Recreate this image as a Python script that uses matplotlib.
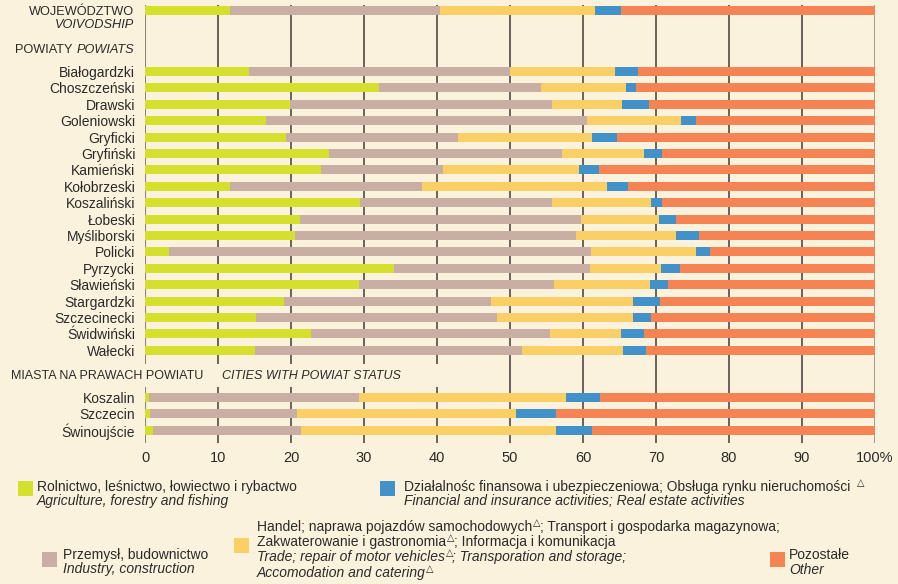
import numpy as np
import matplotlib
matplotlib.use("Agg")
import matplotlib.pyplot as plt
from matplotlib.patches import Rectangle
from matplotlib.transforms import IdentityTransform

plt.rcParams["font.family"] = ["Liberation Sans", "DejaVu Sans"]

# ---- data (percent shares) ----
voivodship = [11.6, 28.8, 21.2, 3.6, 34.8]

powiats = [
    "Białogardzki", "Choszczeński", "Drawski", "Goleniowski", "Gryficki",
    "Gryfiński", "Kamieński", "Kołobrzeski", "Koszaliński", "Łobeski",
    "Myśliborski", "Policki", "Pyrzycki", "Sławieński", "Stargardzki",
    "Szczecinecki", "Świdwiński", "Wałecki",
]
pow_agri = [14.2, 32.1, 19.9, 16.6, 19.3, 25.2, 24.1, 11.6, 29.5, 21.2,
            20.5, 3.3, 34.1, 29.3, 19.0, 15.2, 22.7, 15.1]
pow_industry = [35.8, 22.1, 35.9, 43.9, 23.6, 31.9, 16.7, 26.3, 26.3, 38.5,
                38.5, 57.8, 26.9, 26.7, 28.4, 33.0, 32.8, 36.5]
pow_trade = [14.4, 11.7, 9.5, 12.9, 18.3, 11.3, 18.7, 25.4, 13.5, 10.7,
             13.7, 14.4, 9.7, 13.2, 19.4, 18.6, 9.7, 13.9]
pow_finance = [3.1, 1.4, 3.7, 2.1, 3.5, 2.4, 2.7, 2.9, 1.5, 2.3,
               3.2, 1.9, 2.6, 2.4, 3.7, 2.5, 3.2, 3.1]
pow_other = [32.5, 32.7, 31.0, 24.5, 35.3, 29.2, 37.8, 33.8, 29.2, 27.3,
             24.1, 22.6, 26.7, 28.4, 29.5, 30.7, 31.6, 31.4]

cities = ["Koszalin", "Szczecin", "Świnoujście"]
city_agri = [0.5, 0.7, 1.1]
city_industry = [28.8, 20.1, 20.3]
city_trade = [28.4, 30.0, 34.9]
city_finance = [4.6, 5.5, 4.9]
city_other = [37.7, 43.7, 38.8]

colors = ["#d5df2e", "#c9aea4", "#f9cf66", "#4292c9", "#f58353"]
BG = "#faf2dc"
TXT = "#2b2a29"
W, H = 898, 584

# ---- layout ----
pos_voiv = np.array([0.0])
pos_pow = 3.72 + np.arange(len(powiats))
pos_city = 23.57 + 1.02 * np.arange(len(cities))

positions = np.concatenate([pos_voiv, pos_pow, pos_city])
segments = [
    [voivodship[0]] + pow_agri + city_agri,
    [voivodship[1]] + pow_industry + city_industry,
    [voivodship[2]] + pow_trade + city_trade,
    [voivodship[3]] + pow_finance + city_finance,
    [voivodship[4]] + pow_other + city_other,
]

fig = plt.figure(figsize=(W / 100, H / 100), dpi=100, facecolor=BG)
ax = fig.add_axes([145 / W, (H - 443) / H, 730 / W, 438 / H])
ax.set_facecolor(BG)

left = np.zeros(len(positions))
for vals, col in zip(segments, colors):
    vals = np.array(vals)
    ax.barh(positions, vals, left=left, height=0.55, color=col, zorder=3)
    left += vals

ax.set_xlim(0, 100)
ax.set_ylim(26.37, -0.335)

# grid lines
ax.vlines(np.arange(10, 100, 10), -1, 30, color="#403c38", lw=1.1, zorder=1)
ax.vlines([0], -1, 30, color="#8c857a", lw=1.5, zorder=1)
ax.vlines([100], -1, 30, color="#9a9386", lw=2.0, zorder=1)

# blank strip behind the "cities" header
ax.add_patch(Rectangle((-1, 21.55), 42, 1.41, facecolor=BG, edgecolor="none",
                       zorder=2, clip_on=False))

for s in ax.spines.values():
    s.set_visible(False)

ax.set_xticks(np.arange(0, 101, 10))
ax.set_xticklabels([str(v) for v in range(0, 100, 10)] + ["100%"])
ax.set_yticks(np.concatenate([pos_pow, pos_city]))
ax.set_yticklabels(powiats + cities)
ax.tick_params(axis="x", length=0, pad=6, labelsize=10.5, labelcolor=TXT)
ax.tick_params(axis="y", length=0, pad=7, labelsize=10, labelcolor=TXT)

renderer = fig.canvas.get_renderer()


def ftext(x, y, s, **kw):
    # text placed in figure pixels, y measured from the top
    kw.setdefault("color", TXT)
    return fig.text(x, H - y, s, transform=IdentityTransform(), **kw)


def triangle(x, y):
    return ftext(x, y, "\u25b3", fontsize=7, fontweight="bold",
                 family=["DejaVu Sans"], va="baseline")


def put_line(x, y, pieces, size=10):
    for s, kind in pieces:
        if kind == "tri":
            t = triangle(x + 0.5, y - 5)
        else:
            t = ftext(x, y, s, fontsize=size, style=kind, va="baseline")
        x += t.get_window_extent(renderer).width


# section headers
ftext(134, 12, "WOJEWÓDZTWO", fontsize=9.2, ha="right", va="center")
ftext(134, 25.5, "VOIVODSHIP", fontsize=9.2, ha="right", va="center", style="italic")
t = ftext(134, 50, "POWIATS", fontsize=9.2, ha="right", va="center", style="italic")
wdt = t.get_window_extent(renderer).width
ftext(134 - wdt - 4, 50, "POWIATY", fontsize=9.2, ha="right", va="center")
ftext(11, 376, "MIASTA NA PRAWACH POWIATU", fontsize=9, va="center")
ftext(222, 376, "CITIES WITH POWIAT STATUS", fontsize=9, va="center", style="italic")


# legend
def square(x, y, col):
    fig.patches.append(Rectangle((x, H - y - 15), 15, 15, facecolor=col,
                                 edgecolor="none", transform=IdentityTransform()))


square(18, 481, colors[0])
put_line(37, 490.5, [("Rolnictwo, leśnictwo, łowiectwo i rybactwo", "normal")])
put_line(37, 505, [("Agriculture, forestry and fishing", "italic")])

square(380, 481, colors[3])
put_line(404, 490.5, [("Działalnośc finansowa i ubezpieczeniowa; Obsługa rynku nieruchomości", "normal")])
put_line(404, 505, [("Financial and insurance activities; Real estate activities", "italic")])
triangle(857, 486)

square(42, 552, colors[1])
put_line(63, 559, [("Przemysł, budownictwo", "normal")])
put_line(63, 573.5, [("Industry, construction", "italic")])

square(234, 538, colors[2])
put_line(257, 531, [("Handel; naprawa pojazdów samochodowych", "normal"), ("", "tri"),
                    ("; Transport i gospodarka magazynowa;", "normal")])
put_line(257, 546, [("Zakwaterowanie i gastronomia", "normal"), ("", "tri"),
                    ("; Informacja i komunikacja", "normal")])
put_line(257, 561, [("Trade; repair of motor vehicles", "italic"), ("", "tri"),
                    ("; Transporation and storage;", "italic")])
put_line(257, 577, [("Accomodation and catering", "italic"), ("", "tri")])

square(770, 552, colors[4])
put_line(789, 559, [("Pozostałe", "normal")])
put_line(789, 573.5, [("Other", "italic")])

fig.savefig("out.png", dpi=100, facecolor=BG)
